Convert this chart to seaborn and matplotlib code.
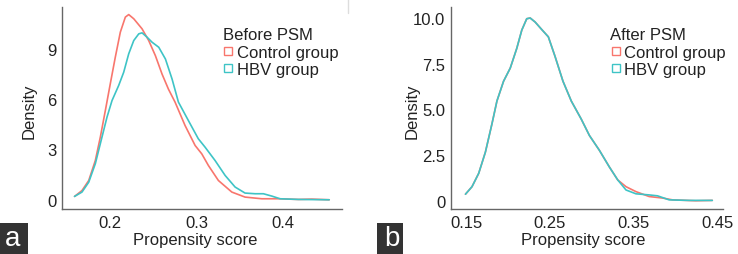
import numpy as np
import pandas as pd
import matplotlib
matplotlib.use("Agg")
import matplotlib.pyplot as plt
import seaborn as sns

# ---- Data ----
groups = ["Control group", "HBV group"]

# Panel a: Before PSM
a_ctrl_x = [0.159, 0.1676, 0.1754, 0.183, 0.1888, 0.1946, 0.2003, 0.2061, 0.2119, 0.2177, 0.2216,
            0.2274, 0.237, 0.2447, 0.2524, 0.2601, 0.2675, 0.2751, 0.2867, 0.2983, 0.306, 0.3136,
            0.3252, 0.3407, 0.356, 0.3754, 0.3946, 0.4177, 0.4331, 0.4532]
a_ctrl_y = [0.20, 0.55, 1.15, 2.34, 3.74, 5.33, 6.92, 8.51, 10.0, 10.9, 11.05,
            10.8, 10.2, 9.5, 8.6, 7.5, 6.6, 5.83, 4.43, 3.24, 2.74, 2.05,
            1.15, 0.46, 0.16, 0.06, 0.06, 0.02, 0.04, 0.0]
a_hbv_x = [0.159, 0.1676, 0.1754, 0.183, 0.1907, 0.1965, 0.2023, 0.21, 0.2158, 0.2216, 0.2274,
           0.2332, 0.237, 0.2428, 0.2486, 0.2563, 0.264, 0.2717, 0.279, 0.2905, 0.302, 0.3098,
           0.3214, 0.333, 0.3445, 0.356, 0.3676, 0.3772, 0.3869, 0.3965, 0.4177, 0.4532]
a_hbv_y = [0.20, 0.46, 1.05, 2.15, 3.74, 4.93, 5.92, 6.82, 7.61, 8.71, 9.5,
           9.9, 9.96, 9.7, 9.4, 9.1, 8.4, 7.2, 5.83, 4.73, 3.64, 3.14,
           2.34, 1.45, 0.76, 0.40, 0.36, 0.36, 0.22, 0.06, 0.02, 0.0]

# Panel b: After PSM
b_hbv_x = [0.1493, 0.1571, 0.1651, 0.1731, 0.1809, 0.1869, 0.1948, 0.2028, 0.2106, 0.2166, 0.2225,
           0.2266, 0.2325, 0.2404, 0.2483, 0.2563, 0.2658, 0.2757, 0.2876, 0.2974, 0.3093, 0.3212,
           0.3312, 0.3411, 0.353, 0.3688, 0.3788, 0.3926, 0.4164, 0.4442]
b_hbv_y = [0.36, 0.77, 1.50, 2.66, 4.2, 5.46, 6.54, 7.26, 8.34, 9.34, 9.96,
           10.0, 9.78, 9.37, 8.97, 7.9, 6.54, 5.46, 4.47, 3.57, 2.76, 1.85,
           1.14, 0.59, 0.38, 0.32, 0.27, 0.05, 0.02, 0.02]
b_ctrl_x = [0.1493, 0.1571, 0.1651, 0.1731, 0.1809, 0.1869, 0.1948, 0.2028, 0.2106, 0.2166, 0.2225,
            0.2266, 0.2325, 0.2404, 0.2483, 0.2563, 0.2658, 0.2757, 0.2876, 0.2974, 0.3093, 0.3212,
            0.3312, 0.3411, 0.353, 0.3688, 0.3847, 0.3966, 0.4243, 0.4442]
b_ctrl_y = [0.36, 0.77, 1.50, 2.66, 4.2, 5.46, 6.54, 7.26, 8.34, 9.34, 9.96,
            10.0, 9.78, 9.37, 8.97, 7.9, 6.54, 5.46, 4.47, 3.57, 2.76, 1.85,
            1.14, 0.77, 0.50, 0.23, 0.15, 0.05, 0.0, 0.02]

a_xticks = [0.2, 0.3, 0.4]
a_yticks = [0, 3, 6, 9]
b_xticks = [0.15, 0.25, 0.35, 0.45]
b_yticks = [0, 2.5, 5.0, 7.5, 10.0]
b_yticklabels = ["0", "2.5", "5.0", "7.5", "10.0"]

colors = {"Control group": "#F8766D", "HBV group": "#3EC4C6"}

sns.set_style("white")
plt.rcParams["font.family"] = ["Liberation Sans", "DejaVu Sans"]

def make_df(cx, cy, hx, hy):
    d1 = pd.DataFrame({"x": cx, "y": cy, "group": groups[0]})
    d2 = pd.DataFrame({"x": hx, "y": hy, "group": groups[1]})
    return pd.concat([d1, d2], ignore_index=True)

df_a = make_df(a_ctrl_x, a_ctrl_y, a_hbv_x, a_hbv_y)
df_b = make_df(b_ctrl_x, b_ctrl_y, b_hbv_x, b_hbv_y)

fig = plt.figure(figsize=(7.38, 2.55), dpi=100)
ax_a = fig.add_axes([0.084, 0.1765, 0.3794, 0.792])
ax_b = fig.add_axes([0.6111, 0.1765, 0.3686, 0.792])

FS = 12
spine_col = "#666666"
txt_col = "#222222"

def style(ax, title, xlim, ylim, xt, yt, ytl, legx, xlab_x, ylab_x):
    ax.set_xlim(*xlim)
    ax.set_ylim(*ylim)
    ax.set_xticks(xt)
    ax.set_xticklabels([f"{v:g}" for v in xt])
    ax.set_yticks(yt)
    ax.set_yticklabels(ytl)
    for s in ["top", "right"]:
        ax.spines[s].set_visible(False)
    for s in ["left", "bottom"]:
        ax.spines[s].set_color(spine_col)
        ax.spines[s].set_linewidth(1.0)
    ax.tick_params(axis="both", labelsize=FS, colors=txt_col, length=2, width=0.8,
                   pad=2, direction="out", color=spine_col)
    ax.set_xlabel("Propensity score", fontsize=FS, color=txt_col)
    ax.set_ylabel("Density", fontsize=FS, color=txt_col)
    ax.xaxis.set_label_coords(xlab_x, -0.112)
    ax.yaxis.set_label_coords(ylab_x, 0.49)
    handles = [plt.Line2D([], [], marker="s", linestyle="none", markersize=6,
                          markerfacecolor="white", markeredgecolor=colors[g],
                          markeredgewidth=1.0) for g in groups]
    leg = ax.legend(handles, groups, title=title, loc="upper left",
                    bbox_to_anchor=(legx, 0.90), frameon=False, fontsize=FS,
                    title_fontsize=FS, handletextpad=0.16, handlelength=0.67,
                    labelspacing=0.14, borderaxespad=0, borderpad=0)
    leg._legend_box.align = "left"
    for t in leg.get_texts():
        t.set_color(txt_col)
    leg.get_title().set_color(txt_col)

sns.lineplot(data=df_a, x="x", y="y", hue="group", palette=colors, ax=ax_a,
             linewidth=1.2, legend=False, sort=True)
sns.lineplot(data=df_b, x="x", y="y", hue="group", palette=colors, ax=ax_b,
             linewidth=1.2, legend=False, sort=True)

style(ax_a, "Before PSM", (0.1445, 0.468), (-0.55, 11.5), a_xticks, a_yticks,
      [str(v) for v in a_yticks], 0.574, 0.475, -0.089)
style(ax_b, "After PSM", (0.132, 0.457), (-0.45, 10.6), b_xticks, b_yticks, b_yticklabels,
      0.585, 0.485, -0.114)

# panel letters
for (x0, w, cx), letter in [((0.0, 28, 13), "a"), ((377, 26, 391.5), "b")]:
    fig.patches.append(plt.Rectangle((x0 / 738, 0.0), w / 738, 31 / 255, transform=fig.transFigure,
                                     facecolor="#333333", edgecolor="none", zorder=5))
    fig.text(cx / 738, 16 / 255, letter, color="white", fontsize=20,
             ha="center", va="center", zorder=6)

# small separator remnant at top
fig.add_artist(plt.Line2D([348 / 738, 348 / 738], [1.0, 1 - 14 / 255],
                          transform=fig.transFigure, color="#dddddd", linewidth=1))

fig.savefig("out.png", dpi=100)
